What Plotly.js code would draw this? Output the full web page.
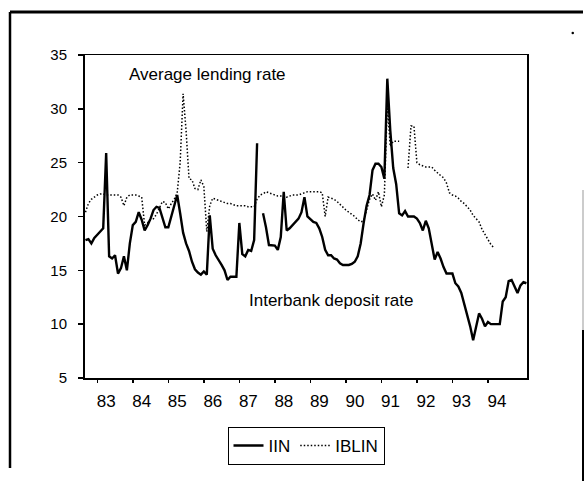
<!DOCTYPE html>
<html><head><meta charset="utf-8">
<script src="https://cdn.plot.ly/plotly-3.0.1.min.js"></script>
<style>html,body{margin:0;padding:0;background:#fff}#chart{width:584px;height:481px}</style>
</head><body><div id="chart"></div>
<script>
// Monthly observations starting 1982:09
const startYear = 1982, startMonth = 9;

// IIN: interbank deposit rate (1982:09 - 1995:02)
const iin = [
  17.8, 17.9, 17.5, 18.0,
  18.3, 18.6, 18.9, 25.9, 16.3, 16.1, 16.4, 14.7, 15.2, 16.3, 15.0, 17.5,
  19.2, 19.5, 20.4, 19.7, 18.7, 19.2, 19.8, 20.6, 20.9, 20.8, 19.8, 19.0,
  19.0, 20.0, 21.0, 22.0, 20.3, 18.5, 17.5, 16.8, 15.8, 15.1, 14.8, 14.6,
  14.9, 14.6, 20.1, 17.0, 16.4, 16.0, 15.5, 15.0, 14.1, 14.4, 14.4, 14.4,
  19.4, 16.5, 16.3, 16.9, 16.8, 17.8, 26.8, null, 20.3, 19.0, 17.35, 17.35,
  17.3, 16.9, 18.1, 22.3, 18.7, 18.9, 19.2, 19.5, 19.8, 20.4, 21.8, 20.0,
  19.7, 19.5, 19.4, 18.9, 18.1, 16.9, 16.4, 16.4, 16.1, 16.0, 15.65, 15.5,
  15.5, 15.5, 15.6, 15.8, 16.3, 17.5, 19.4, 21.0, 22.0, 24.3, 24.9, 24.9,
  24.6, 23.5, 32.8, 28.0, 24.5, 23.0, 20.3, 20.1, 20.5, 20.0, 20.0, 20.0,
  19.8, 19.4, 18.7, 19.6, 18.9, 17.5, 16.0, 16.7, 16.1, 15.3, 14.7, 14.7,
  14.7, 13.8, 13.5, 12.9, 11.9, 10.7, 9.8, 8.5, 9.8, 11.0, 10.5, 9.8,
  10.2, 10.0, 10.0, 10.0, 10.0, 12.1, 12.5, 14.0, 14.1, 13.5, 12.9, 13.6,
  13.9, 13.8
];

// IBLIN: average lending rate (1982:09 - 1994:03)
const iblin = [
  20.4, 21.2, 21.6, 21.8,
  22.0, 22.1, 22.1, 22.0, 22.0, 22.0, 22.0, 22.0, 21.8, 21.0, 21.8, 22.0,
  22.0, 22.0, 21.9, 21.8, 19.2, 19.4, 19.7, 19.8, 20.2, 20.8, 21.4, 21.3,
  20.7, 21.2, 21.6, 22.2, 25.0, 31.4, 28.0, 23.5, 23.4, 22.6, 22.5, 23.4,
  22.8, 18.6, 21.0, 21.7, 21.6, 21.5, 21.4, 21.3, 21.2, 21.2, 21.1, 21.0,
  21.0, 21.0, 21.0, 20.9, 20.9, 20.9, 21.6, 22.0, 22.1, 22.3, 22.2, 22.1,
  22.0, 21.9, 21.9, 22.0, 21.8, 21.9, 22.0, 22.0, 22.0, 22.1, 22.2, 22.3,
  22.3, 22.3, 22.3, 22.3, 22.2, 20.0, 21.8, 21.7, 21.6, 21.4, 21.1, 20.8,
  20.6, 20.4, 20.2, 20.0, 19.7, 19.5, 19.6, 20.6, 21.6, 22.1, 21.5, 22.3,
  20.9, 22.0, 30.5, 26.5, 27.0, 27.0, 27.0, null, null, 24.5, 28.4, 28.4,
  25.0, 24.8, 24.7, 24.6, 24.6, 24.6, 24.3, 24.0, 23.8, 23.6, 23.1, 22.2,
  22.0, 21.9, 21.7, 21.4, 21.2, 20.9, 20.6, 20.1, 19.8, 19.5, 18.8, 18.3,
  17.8, 17.4, 17.1
];

const tickYears = [1983,1984,1985,1986,1987,1988,1989,1990,1991,1992,1993,1994];
const tickLabels = ['83','84','85','86','87','88','89','90','91','92','93','94'];
const yTicks = [5,10,15,20,25,30,35];

function monthAxis(n){
  const t = [];
  for (let i = 0; i < n; i++) t.push(startYear + (startMonth - 1 + i) / 12);
  return t;
}

const FONT = 'Liberation Sans, Arial, Helvetica, sans-serif';

const traces = [
  {x: monthAxis(iin.length), y: iin, name: 'IIN', type: 'scatter', mode: 'lines',
   line: {color: '#000', width: 2.4}, connectgaps: false},
  {x: monthAxis(iblin.length), y: iblin, name: 'IBLIN', type: 'scatter', mode: 'lines',
   line: {color: '#000', width: 1.5, dash: '1.5px,2px'}, connectgaps: false}
];

// paper helpers for the outer frame (plot area 85..527 px, 55..378 px)
const PL = 85, PR = 527, PT = 55, PB = 378;
const px = v => (v - PL) / (PR - PL);
const py = v => (PB - v) / (PB - PT);

const layout = {
  width: 584, height: 481,
  paper_bgcolor: '#fff', plot_bgcolor: '#fff',
  margin: {l: PL, r: 584 - PR, t: PT, b: 481 - PB, pad: 0},
  font: {family: FONT, color: '#000'},
  showlegend: true,
  legend: {orientation: 'h', x: 0.5, xanchor: 'center', y: py(427), yanchor: 'top',
           bordercolor: '#000', borderwidth: 1, font: {size: 17, family: FONT, color: '#000'},
           itemwidth: 30, tracegroupgap: 0, bgcolor: '#fff'},
  xaxis: {range: [1982.654, 1995.10], tickvals: tickYears, ticktext: tickLabels,
          ticks: 'outside', ticklen: 3, tickwidth: 1.5, tickcolor: '#000',
          showline: true, linewidth: 1.5, linecolor: '#000', mirror: true,
          showgrid: false, zeroline: false, fixedrange: true,
          tickfont: {size: 17, family: FONT, color: '#000'},
          ticklabelshift: 9, ticklabelstandoff: 4},
  yaxis: {range: [5, 35], tickvals: yTicks, ticks: 'outside', ticklen: 5, tickwidth: 1.5,
          tickcolor: '#000', showline: true, linewidth: 2, linecolor: '#000', mirror: true,
          showgrid: false, zeroline: false, fixedrange: true,
          tickfont: {size: 15, family: FONT, color: '#000'}, ticklabelstandoff: 8},
  annotations: [
    {x: 1986.11, y: 33.2, xref: 'x', yref: 'y', text: 'Average lending rate', showarrow: false,
     font: {size: 17, family: FONT, color: '#000'}},
    {x: 1989.57, y: 12.24, xref: 'x', yref: 'y', text: 'Interbank deposit rate', showarrow: false,
     font: {size: 17, family: FONT, color: '#000'}}
  ],
  shapes: [
    {type: 'line', xref: 'paper', yref: 'paper', x0: px(10), x1: px(583), y0: py(12), y1: py(12),
     line: {color: '#000', width: 3}},
    {type: 'line', xref: 'paper', yref: 'paper', x0: px(10), x1: px(10), y0: py(12), y1: py(468),
     line: {color: '#000', width: 2.5}},
    {type: 'line', xref: 'paper', yref: 'paper', x0: px(583), x1: px(583), y0: py(330), y1: py(481),
     line: {color: '#000', width: 2}},
    {type: 'line', xref: 'paper', yref: 'paper', x0: px(583), x1: px(583), y0: py(190), y1: py(330),
     line: {color: '#bbb', width: 1.5}},
    {type: 'circle', xref: 'paper', yref: 'paper', x0: px(571.5), x1: px(574), y0: py(31.8), y1: py(34.3),
     fillcolor: '#000', line: {width: 0}}
  ]
};

Plotly.newPlot('chart', traces, layout, {staticPlot: true, displayModeBar: false});
</script>
</body></html>
